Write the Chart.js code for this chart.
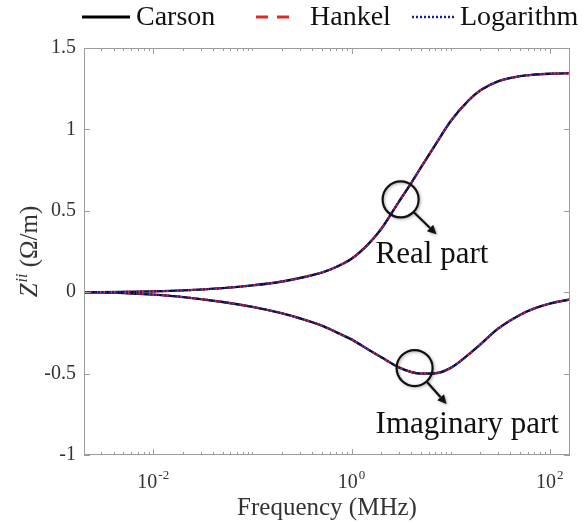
<!DOCTYPE html>
<html>
<head>
<meta charset="utf-8">
<script src="https://cdn.jsdelivr.net/npm/chart.js@4"></script>
<style>
  html, body { margin: 0; padding: 0; background: #fff; }
</style>
</head>
<body>
<canvas id="chart" width="586" height="523"></canvas>
<script>
// Frequency sweep (MHz) and the ground-return impedance parts (Ohm/m)
const frequency = [0.002, 0.005, 0.01, 0.02, 0.05, 0.1, 0.2, 0.3, 0.5, 0.7, 1, 1.5, 2, 3, 4, 5, 7, 10, 15, 20, 30, 50, 70, 100, 160];
const realPart = [0, 0.002, 0.005, 0.011, 0.025, 0.042, 0.066, 0.087, 0.12, 0.155, 0.205, 0.30, 0.39, 0.555, 0.67, 0.765, 0.905, 1.05, 1.175, 1.24, 1.295, 1.327, 1.337, 1.342, 1.345];
const imagPart = [0, -0.005, -0.015, -0.03, -0.06, -0.09, -0.13, -0.16, -0.205, -0.245, -0.29, -0.355, -0.40, -0.462, -0.49, -0.50, -0.498, -0.465, -0.385, -0.32, -0.225, -0.14, -0.10, -0.07, -0.045];

const methods = ["Carson", "Hankel", "Logarithm"];
const xTickValues = [0.01, 1, 100];
const xTickExponents = ["-2", "0", "2"];
const yTickValues = [-1, -0.5, 0, 0.5, 1, 1.5];
const yTickLabels = ["-1", "-0.5", "0", "0.5", "1", "1.5"];

// callouts: circle centre, arrow tip and label anchor in data units
const callouts = [
    { text: "Real part", cx: 3.13, cy: 0.57, tipX: 7.2, tipY: 0.356, textX: 1.75, textY: 0.178 },
    { text: "Imaginary part", cx: 4.33, cy: -0.466, tipX: 9.1, tipY: -0.687, textX: 1.75, textY: -0.865 }
];

const serif = "'Liberation Serif', 'Times New Roman', serif";
const styles = {
    Carson: { color: "#000000", width: 2.4, dash: [], order: 2 },
    Hankel: { color: "#e02828", width: 2, dash: [8, 5], order: 1 },
    Logarithm: { color: "#1c1c9c", width: 2, dash: [2, 1.5], order: 0 }
};

function points(values) {
    return frequency.map((f, i) => ({ x: f, y: values[i] }));
}

const datasets = [];
methods.forEach(m => {
    [realPart, imagPart].forEach(part => {
        datasets.push({
            label: m,
            data: points(part),
            borderColor: styles[m].color,
            borderWidth: styles[m].width,
            borderDash: styles[m].dash,
            order: styles[m].order,
            pointRadius: 0,
            fill: false,
            cubicInterpolationMode: "monotone"
        });
    });
});

// box, inward ticks, x labels, axis titles, legend and callouts
const decorPlugin = {
    id: "decor",
    afterDatasetsDraw(chart) {
        const { ctx, chartArea: a, scales } = chart;
        const x = scales.x, y = scales.y;
        ctx.save();

        ctx.strokeStyle = "#9c9c9c";
        ctx.lineWidth = 1;
        ctx.strokeRect(a.left + 0.5, a.top + 0.5, a.right - a.left - 1, a.bottom - a.top - 1);

        ctx.beginPath();
        for (let e = -3; e <= 2; e++) {
            for (let m = 1; m < 10; m++) {
                const v = m * Math.pow(10, e);
                if (v < x.min || v > x.max) continue;
                const px = Math.round(x.getPixelForValue(v)) + 0.5;
                const len = (m === 1 && xTickValues.some(t => Math.abs(t - v) < 1e-9)) ? 6 : 3;
                ctx.moveTo(px, a.bottom);
                ctx.lineTo(px, a.bottom - len);
                ctx.moveTo(px, a.top);
                ctx.lineTo(px, a.top + len);
            }
        }
        y.ticks.forEach(t => {
            const py = Math.round(y.getPixelForValue(t.value)) + 0.5;
            ctx.moveTo(a.left, py);
            ctx.lineTo(a.left + 6, py);
            ctx.moveTo(a.right, py);
            ctx.lineTo(a.right - 6, py);
        });
        ctx.stroke();

        // x tick labels as powers of ten
        ctx.fillStyle = "#333";
        ctx.textBaseline = "alphabetic";
        x.ticks.forEach((t, i) => {
            const px = x.getPixelForValue(t.value);
            ctx.font = "20px " + serif;
            const wBase = ctx.measureText("10").width;
            ctx.font = "13px " + serif;
            const wExp = ctx.measureText(xTickExponents[i]).width;
            const left = px - (wBase + wExp + 1) / 2;
            ctx.font = "20px " + serif;
            ctx.textAlign = "left";
            ctx.fillText("10", left, 488);
            ctx.font = "13px " + serif;
            ctx.fillText(xTickExponents[i], left + wBase + 1, 479);
        });

        // x axis title
        ctx.font = "25px " + serif;
        ctx.textAlign = "center";
        ctx.textBaseline = "middle";
        ctx.fillText("Frequency (MHz)", (a.left + a.right) / 2, 508);

        // y axis title, rotated
        ctx.save();
        ctx.translate(30, (a.top + a.bottom) / 2);
        ctx.rotate(-Math.PI / 2);
        ctx.textBaseline = "middle";
        ctx.textAlign = "left";
        ctx.font = "italic 25px " + serif;
        const wZ = ctx.measureText("Z").width;
        ctx.font = "italic 16px " + serif;
        const wSup = ctx.measureText("ii").width;
        ctx.font = "25px " + serif;
        const wRest = ctx.measureText(" (\u03A9/m)").width;
        let cx = -(wZ + wSup + 1 + wRest) / 2;
        ctx.font = "italic 25px " + serif;
        ctx.fillText("Z", cx, 0);
        cx += wZ + 1;
        ctx.font = "italic 16px " + serif;
        ctx.fillText("ii", cx, -7);
        cx += wSup;
        ctx.font = "25px " + serif;
        ctx.fillText(" (\u03A9/m)", cx, 0);
        ctx.restore();

        // legend across the top
        ctx.lineCap = "butt";
        const legendY = 17;
        const legendItems = [
            { name: "Carson", x0: 82, x1: 130, tx: 136, lw: 3 },
            { name: "Hankel", x0: 256, x1: 290, tx: 310, lw: 3 },
            { name: "Logarithm", x0: 412, x1: 456, tx: 460, lw: 2.5 }
        ];
        legendItems.forEach(it => {
            const s = styles[it.name];
            ctx.strokeStyle = s.color;
            ctx.lineWidth = it.lw;
            ctx.setLineDash(it.name === "Hankel" ? [12, 9] : it.name === "Logarithm" ? [2, 2] : []);
            ctx.beginPath();
            ctx.moveTo(it.x0, legendY);
            ctx.lineTo(it.x1, legendY);
            ctx.stroke();
            ctx.setLineDash([]);
            ctx.fillStyle = "#111";
            ctx.font = "28px " + serif;
            ctx.textAlign = "left";
            ctx.textBaseline = "middle";
            ctx.fillText(it.name, it.tx, legendY + 1);
        });

        // callouts: magnifier circle, arrow and label
        callouts.forEach(c => {
            const px = x.getPixelForValue(c.cx), py = y.getPixelForValue(c.cy);
            const tx = x.getPixelForValue(c.tipX), ty = y.getPixelForValue(c.tipY);
            const r = 18;
            const ang = Math.atan2(ty - py, tx - px);
            ctx.save();
            ctx.shadowColor = "rgba(0,0,0,0.35)";
            ctx.shadowBlur = 3;
            ctx.shadowOffsetX = 1;
            ctx.shadowOffsetY = 1;
            ctx.strokeStyle = "#111";
            ctx.lineWidth = 2.2;
            ctx.beginPath();
            ctx.arc(px, py, r, 0, Math.PI * 2);
            ctx.stroke();
            const sx = px + r * Math.cos(ang), sy = py + r * Math.sin(ang);
            const head = 9;
            const bx = tx - head * Math.cos(ang), by = ty - head * Math.sin(ang);
            ctx.beginPath();
            ctx.moveTo(sx, sy);
            ctx.lineTo(bx, by);
            ctx.stroke();
            ctx.fillStyle = "#111";
            ctx.beginPath();
            ctx.moveTo(tx, ty);
            ctx.lineTo(bx + 4.5 * Math.sin(ang), by - 4.5 * Math.cos(ang));
            ctx.lineTo(bx - 4.5 * Math.sin(ang), by + 4.5 * Math.cos(ang));
            ctx.closePath();
            ctx.fill();
            ctx.restore();

            ctx.fillStyle = "#111";
            ctx.font = "31px " + serif;
            ctx.textAlign = "left";
            ctx.textBaseline = "alphabetic";
            ctx.fillText(c.text, x.getPixelForValue(c.textX), y.getPixelForValue(c.textY));
        });

        ctx.restore();
    }
};

new Chart(document.getElementById("chart"), {
    type: "line",
    data: { datasets },
    options: {
        responsive: false,
        animation: false,
        layout: { padding: { top: 48, right: 16, bottom: 0, left: 0 } },
        plugins: {
            legend: { display: false },
            tooltip: { enabled: false }
        },
        scales: {
            x: {
                type: "logarithmic",
                min: 0.002,
                max: 160,
                afterBuildTicks: s => { s.ticks = xTickValues.map(v => ({ value: v })); },
                afterFit: s => { s.height = 68; },
                grid: { display: false, drawTicks: false },
                border: { display: false },
                ticks: { display: false }
            },
            y: {
                type: "linear",
                min: -1,
                max: 1.5,
                afterBuildTicks: s => { s.ticks = yTickValues.map(v => ({ value: v })); },
                afterFit: s => { s.width = 84; },
                grid: { display: false, drawTicks: false },
                border: { display: false },
                ticks: {
                    padding: 8,
                    color: "#333",
                    font: { family: serif, size: 20 },
                    callback: (v) => {
                        const i = yTickValues.indexOf(v);
                        return i >= 0 ? yTickLabels[i] : "";
                    }
                }
            }
        }
    },
    plugins: [decorPlugin]
});
</script>
</body>
</html>
